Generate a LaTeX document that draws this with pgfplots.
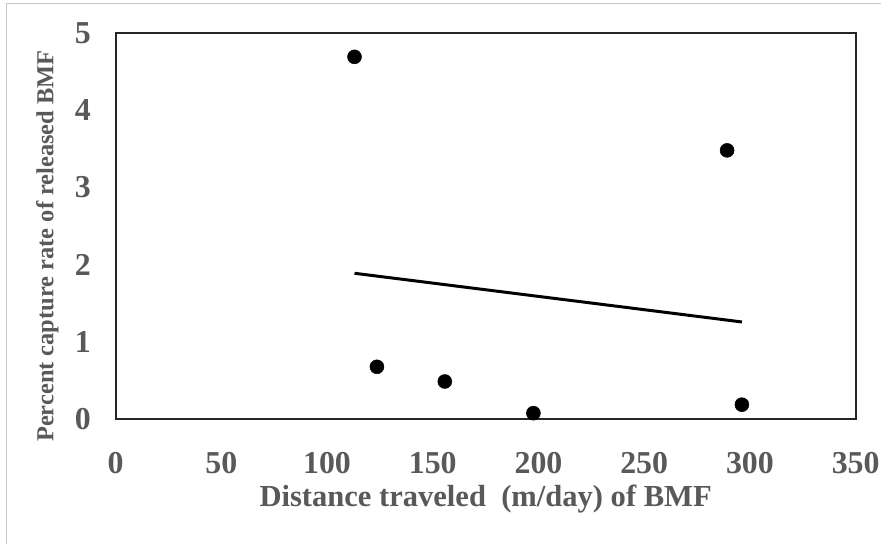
\documentclass[border=0pt]{standalone}
\usepackage{pgfplots}
\pgfplotsset{compat=1.18}
\usepackage{fontspec}
\setmainfont{Liberation Serif}
\definecolor{lblgray}{HTML}{595959}
\begin{document}
\begin{tikzpicture}
\path[fill=white] (0pt,0pt) rectangle (663pt,409.5pt);
\draw[color=black!22,line width=0.75pt] (5.25pt,0pt) -- (5.25pt,406.5pt) -- (663pt,406.5pt);
\begin{axis}[
  at={(87pt,93.75pt)}, anchor=south west,
  scale only axis,
  width=557.25pt, height=291pt,
  xmin=0, xmax=350, ymin=0, ymax=5,
  xtick={0,50,...,350}, ytick={0,1,...,5},
  axis line style={line width=1.5pt, color=black!85},
  tick style={draw=none},
  every tick label/.append style={font=\fontsize{24}{27}\selectfont\bfseries, text=lblgray},
  /pgf/number format/assume math mode=true,
  xticklabel style={yshift=-21pt},
  yticklabel style={xshift=-15pt},
  xlabel={Distance traveled\ \ (m/day) of BMF},
  ylabel={Percent capture rate of released BMF},
  xlabel style={font=\fontsize{23}{26}\selectfont\bfseries, text=lblgray, yshift=-1.5pt},
  ylabel style={font=\fontsize{18.4}{21}\selectfont\bfseries, text=lblgray, yshift=5.5pt, xshift=-15pt},
  clip=false,
]
\addplot[only marks, mark=*, mark size=5.25pt, color=black] coordinates {
 (113,4.69) (123.6,0.68) (155.7,0.49) (197.6,0.08) (289.2,3.48) (296.2,0.19)
};
\addplot[no marks, line width=2.25pt, color=black] coordinates {
 (113,1.89) (296.2,1.26)
};
\end{axis}
\end{tikzpicture}
\end{document}
